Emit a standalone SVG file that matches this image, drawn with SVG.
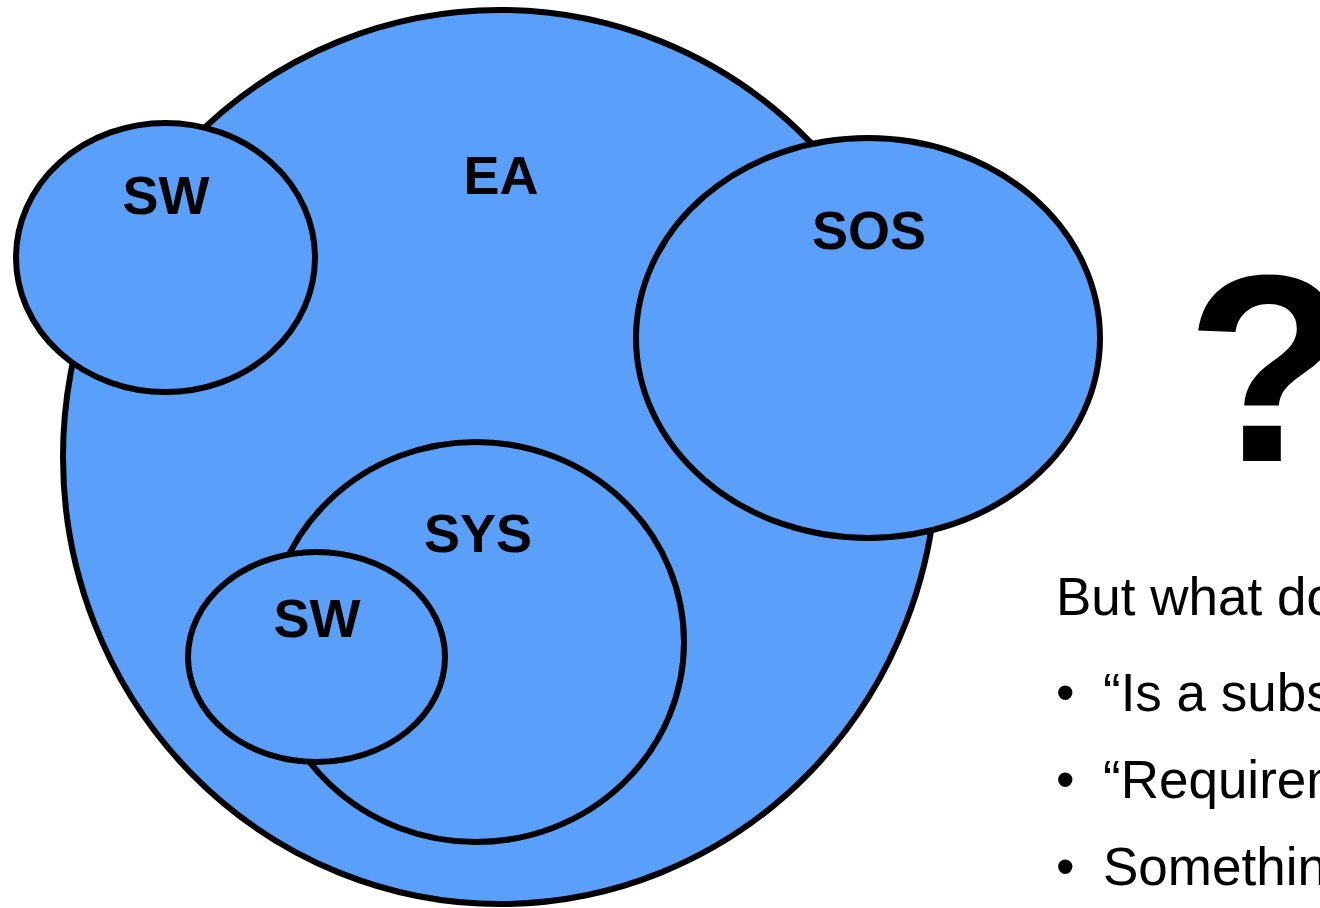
<svg xmlns="http://www.w3.org/2000/svg" width="1320" height="908" viewBox="0 0 1320 908">
<style>
.set{fill:#5AA0FB;stroke:#000;stroke-width:6}
.lbl{font-family:"Liberation Sans",Arial,sans-serif;font-weight:bold;font-size:54px;text-anchor:middle;fill:#000}
.txt{font-family:"Liberation Sans",Arial,sans-serif;font-size:53px;fill:#000}
</style>
<rect width="1320" height="908" fill="#fff"/>
<g id="connectors"/>
<g id="EA">
<ellipse class="set" cx="500" cy="457" rx="437" ry="447"/>
<text class="lbl" x="501" y="194">EA</text>
</g>
<g id="SW1">
<ellipse class="set" cx="165.5" cy="257.5" rx="149.5" ry="134.5"/>
<text class="lbl" x="166" y="214">SW</text>
</g>
<g id="SOS">
<ellipse class="set" cx="868" cy="338" rx="232" ry="200"/>
<text class="lbl" x="869" y="249">SOS</text>
</g>
<g id="SYS">
<ellipse class="set" cx="476" cy="642" rx="208" ry="200"/>
<text class="lbl" x="478" y="552">SYS</text>
</g>
<g id="SW2">
<ellipse class="set" cx="316.5" cy="657" rx="128.5" ry="105"/>
<text class="lbl" x="317" y="637">SW</text>
</g>
<g id="question">
<text x="1186" y="461" style="font-family:'Liberation Sans',Arial,sans-serif;font-weight:bold;font-size:267px;fill:#000">?</text>
</g>
<g id="notes">
<text class="txt" x="1056" y="615">But what do</text>
<text class="txt" x="1056" y="711">•</text>
<text class="txt" x="1103" y="711">“Is a subs</text>
<text class="txt" x="1056" y="798">•</text>
<text class="txt" x="1103" y="798">“Requirem</text>
<text class="txt" x="1056" y="885">•</text>
<text class="txt" x="1103" y="885">Somethin</text>
</g>
</svg>
